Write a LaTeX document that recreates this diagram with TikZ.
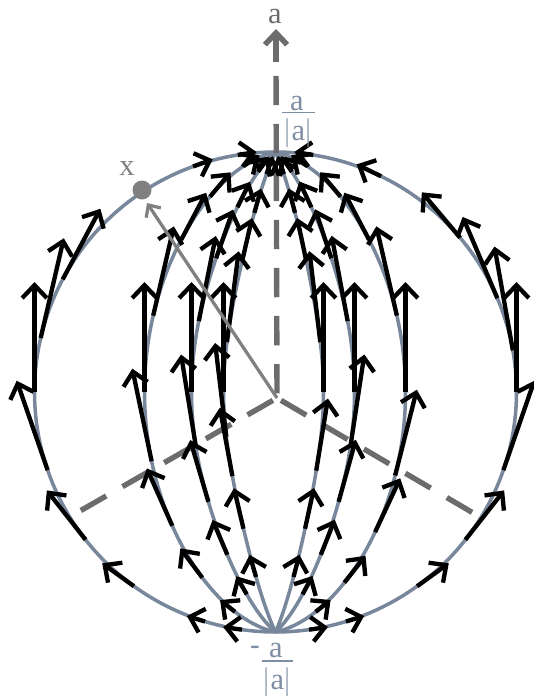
\documentclass[tikz,border=0pt]{standalone}
\usepackage{fontspec}
\setmainfont{Liberation Serif}
\newfontfamily\hyphenfont{Liberation Sans}
\usetikzlibrary{arrows.meta,calc}
\definecolor{merid}{RGB}{120,135,155}
\definecolor{axisgray}{RGB}{108,108,108}
\definecolor{vecgray}{RGB}{128,128,128}
\definecolor{labelblue}{RGB}{128,142,165}
\tikzset{
  meridian/.style={merid, line width=3pt},
  field/.style={black, line width=3.7pt, line cap=butt,
    -{Straight Barb[length=11pt,width=21pt]}},
  axisline/.style={axisgray, line width=4.6pt, dash pattern=on 25pt off 16pt, dash phase=37pt},
  lbl/.style={font=\fontsize{26}{28}\selectfont, inner sep=0pt, anchor=base},
}
\begin{document}
\begin{tikzpicture}[x=0.03cm,y=-0.03cm]
\useasboundingbox (0,0) rectangle (534,698);
% meridians: half width a, bend b
\foreach \a/\b in {-241/0,-131/0.12,-84/0.3,-52/0.45,48/0.45,79/0.3,130/0.12,241/0}
  \draw[meridian] plot[domain=0:180,samples=90,smooth]
    ({275.5+(\a)*sin(\x)},{392-240*cos(\x)*(1-(\b)*sin(\x))});
% axes
\coordinate (O) at (277,398);
\coordinate (xend) at (73,515);
\coordinate (yend) at (480,517);
\coordinate (ztop) at (276,62);
\coordinate (ztip) at (276,29);
\draw[axisline] (O) -- (xend);
\draw[axisline] (O) -- (yend);
\draw[axisline] (O) -- (ztop);
\draw[axisgray, line width=4.6pt, -{Straight Barb[length=10pt,width=19pt]}] (ztop) -- (ztip);
% field along the meridians
\foreach \a/\b/\tl in {
    -241/0/{9,20,62,77,90,109,128,144,163,172},
    241/0/{9,26,50,67,80,90,109,128,144,163,172},
    -131/0.12/{14,30,46,69,90,109,128,146,162},
    130/0.12/{14,30,46,69,90,113,130,148,162},
    -84/0.3/{12,27,45,66,90,109,127,145,160},
    79/0.3/{12,27,45,66,90,109,127,145,160},
    -52/0.45/{10,24,40,69,90,109,124,142,158},
    48/0.45/{10,24,40,69,90,122,142,158}}{
  \foreach \t in \tl {
    \pgfmathsetmacro\px{275.5+(\a)*sin(\t)}
    \pgfmathsetmacro\py{392-240*cos(\t)*(1-(\b)*sin(\t))}
    \pgfmathsetmacro\tx{-(\a)*cos(\t)}
    \pgfmathsetmacro\ty{-(240*sin(\t)+240*(\b)*cos(2*\t))}
    \pgfmathsetmacro\nrm{veclen(\tx,\ty)}
    \pgfmathsetmacro\len{max(110*sin(\t)*(0.55+0.45*sin(\t)^4),19)}
    \draw[field] (\px,\py) -- ++({\len*\tx/\nrm},{\len*\ty/\nrm});
  }
}
% the vector x
\coordinate (xtip) at (147,203);
\draw[vecgray, line width=2.8pt, -{Straight Barb[length=8pt,width=15pt]}] (O) -- (xtip);
\fill[vecgray] (142,190) circle (9.5);
% labels
\node[lbl, text=axisgray] (alabel) at (275,23) {a};
\node[lbl, text=vecgray] (xlabel) at (127,175) {x};
\node[lbl, text=labelblue] (nnum) at (297,110) {a};
\draw[labelblue, line width=1.1pt] (282,112.5) -- (315,112.5);
\node[lbl, text=labelblue] (nbarl) at (287.5,140) {$|$};
\node[lbl, text=labelblue] (nden) at (298.5,140) {a};
\node[lbl, text=labelblue] (nbarr) at (309,140) {$|$};
\node[lbl, text=labelblue] (sminus) at (255,655) {\hyphenfont -};
\node[lbl, text=labelblue] (snum) at (276,657) {a};
\draw[labelblue, line width=1.1pt] (262,661) -- (293,661);
\node[lbl, text=labelblue] (sbarl) at (267,689) {$|$};
\node[lbl, text=labelblue] (sden) at (277.5,689) {a};
\node[lbl, text=labelblue] (sbarr) at (288,689) {$|$};
\end{tikzpicture}
\end{document}
